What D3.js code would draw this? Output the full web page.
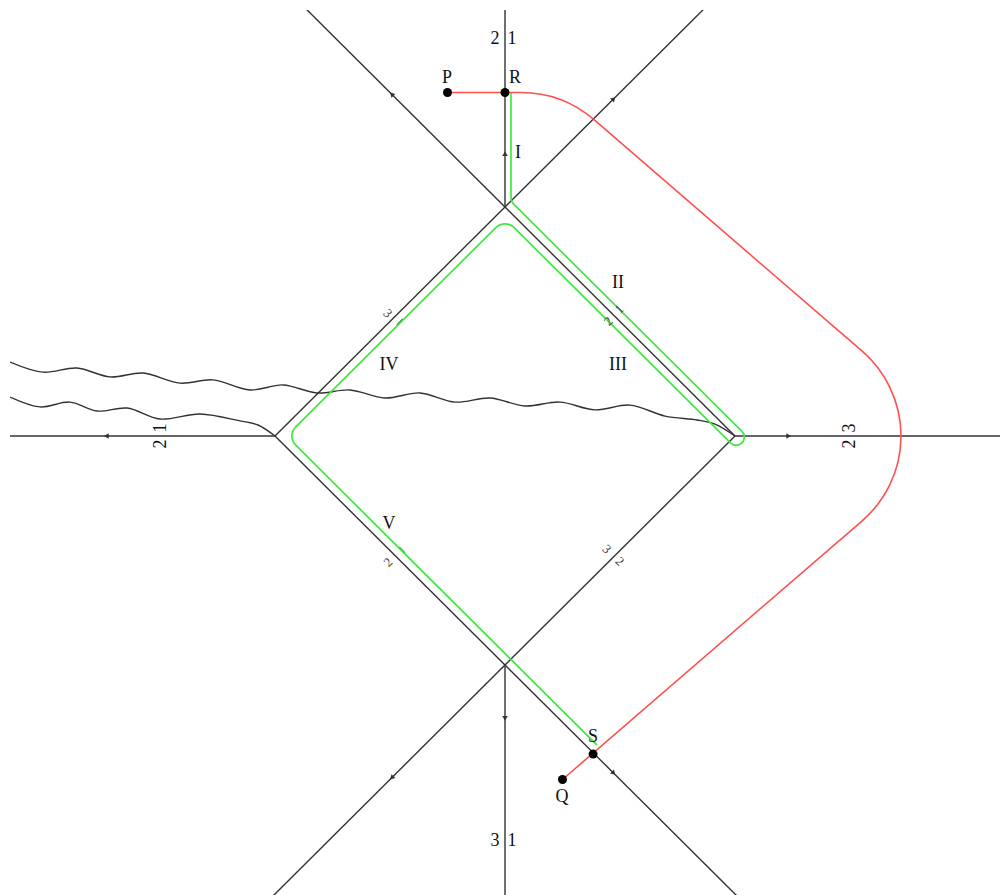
<!DOCTYPE html>
<html><head><meta charset="utf-8">
<script src="https://cdn.jsdelivr.net/npm/d3@7/dist/d3.min.js"></script>
<style>body{margin:0;background:#fff} svg{display:block}</style>
</head><body><svg id="c" width="1000" height="895"></svg>
<script>
// ---- data (diagram units: diamond vertices at ±100) ----
const rays = [
  [[0,100],[0,200]], [[0,-100],[0,-210]],
  [[-100,0],[-230,0]], [[100,0],[230,0]],
  [[-95,195],[100,0]], [[-100,0],[95,195]],
  [[-100,0],[110,-210]], [[100,0],[-110,-210]]
];
const arrowAt  = [[-49,149],[47,147],[0,123],[-173,0],[123,0],[0,-123],[-49,-149],[47,-147]];
const arrowDir = [[-1,1],[1,1],[0,1],[-1,0],[1,0],[0,-1],[-1,-1],[1,-1]];
const edgeTicks = [[-45.7,49.8],[-44.8,-49.8]];
const redPath   = [[-25,150],[25,150],[198,0],[25,-150]];
const redRadii  = [112,112];
const greenPath = [[2.6,150],[2.6,102.4],[105.5,-0.5],[100.5,-5.5],[0,95],[-95,0],[40,-135]];
const greenRadii= [10,8,8,13,13];
const waveUpper = [[-215.2,32.3],[-200.9,27.9],[-186.1,29.7],[-171.7,25.8],[-157.4,27.5],[-141.3,23.1],[-127.0,24.5],[-110.9,20.1],[-96.5,22.3],[-81.7,18.8],[-67.4,20.1],[-52.2,16.6],[-37.0,18.8],[-21.7,14.8],[-6.5,16.6],[8.7,13.1],[23.9,14.8],[39.1,11.4],[54.3,13.5],[69.6,8.7],[83.5,7.0],[91.3,5.2],[100,0]];
const waveLower = [[-215.2,17.0],[-202.2,12.7],[-189.1,14.8],[-177.4,10.9],[-164.3,12.2],[-150.0,7.4],[-132.6,9.6],[-115.2,6.6],[-107.4,4.8],[-100,0]];
const points = [["P",[-25,150]],["R",[0,150]],["S",[38.3,-138.9]],["Q",[25,-150]]];
const labels = [
  ["2",[-4.35,173.8],0],["1",[3.04,173.8],0],
  ["P",[-25.2,156.8],0],["R",[4.35,156.8],0],
  ["I",[5.65,124.0],0],["II",[49.1,67.2],0],["III",[49.1,31.4],0],
  ["IV",[-50.4,31.4],0],["V",[-50.4,-38.0],0],
  ["S",[38.3,-131.0],0],["Q",[24.8,-157.2],0],
  ["3",[-4.35,-176.4],0],["1",[3.04,-176.4],0],
  ["1",[-150,3.5],-90],["2",[-150,-3.5],-90],
  ["3",[149.6,3.5],-90],["2",[149.6,-3.5],-90]
];
const edgeLabels = [
  ["3",[-50.9,53.7],45],
  ["1",[49.6,55.5],-45],["2",[44.8,50.2],-45],
  ["2",[-50.9,-55.0],-45],
  ["3",[44.3,-49.3],45],["2",[50,-54.6],45]
];

// ---- drawing ----
const svg = d3.select("#c");
const x = d3.scaleLinear().domain([-100,100]).range([275,735]);
const y = d3.scaleLinear().domain([-100,100]).range([665,207]);
const P = d => [x(d[0]), y(d[1])];

svg.append("defs").append("clipPath").attr("id","clip")
  .append("rect").attr("x",10).attr("y",10).attr("width",990).attr("height",885);
const g = svg.append("g").attr("clip-path","url(#clip)");

const line = d3.line().x(d=>x(d[0])).y(d=>y(d[1]));
const BLACK="#333";

g.selectAll(".ray").data(rays).join("path")
  .attr("d", d=>line(d)).attr("fill","none").attr("stroke",BLACK).attr("stroke-width",1.4);

const wave = d3.line().x(d=>x(d[0])).y(d=>y(d[1])).curve(d3.curveCatmullRom.alpha(0.5));
g.selectAll(".wave").data([waveUpper, waveLower]).join("path")
  .attr("d", wave).attr("fill","none").attr("stroke",BLACK).attr("stroke-width",1.4);

// arrow markers
g.selectAll(".arr").data(arrowAt).join("path")
  .attr("d", d3.symbol(d3.symbolTriangle, 13))
  .attr("fill",BLACK)
  .attr("transform",(d,i)=>{
    const dir=arrowDir[i]; const ang=Math.atan2(-dir[1],dir[0])*180/Math.PI+90;
    return `translate(${x(d[0])},${y(d[1])}) rotate(${ang})`;
  });
g.selectAll(".etick").data(edgeTicks).join("line")
  .attr("x1",d=>x(d[0])-3).attr("y1",d=>y(d[1])-3*(d[1]>0?-1:1))
  .attr("x2",d=>x(d[0])+3).attr("y2",d=>y(d[1])+3*(d[1]>0?-1:1))
  .attr("stroke","#2a7a2a").attr("stroke-width",1.6);

function rounded(pts, radii){
  const p = d3.path(); const s = pts.map(P);
  p.moveTo(s[0][0], s[0][1]);
  for(let i=1;i<s.length-1;i++) p.arcTo(s[i][0],s[i][1],s[i+1][0],s[i+1][1],radii[i-1]);
  p.lineTo(s[s.length-1][0], s[s.length-1][1]);
  return p.toString();
}
g.append("path").attr("d", rounded(greenPath, greenRadii))
  .attr("fill","none").attr("stroke","#3fe83f").attr("stroke-width",1.7);
g.append("path").attr("d", rounded(redPath, redRadii))
  .attr("fill","none").attr("stroke","#ff5050").attr("stroke-width",1.6);

g.selectAll(".pt").data(points).join("circle")
  .attr("cx",d=>x(d[1][0])).attr("cy",d=>y(d[1][1])).attr("r",4.5).attr("fill","#000");

const FONT='"Liberation Serif","DejaVu Serif",serif';
svg.selectAll(".lbl").data(labels).join("text")
  .attr("transform",d=>`translate(${x(d[1][0])},${y(d[1][1])}) rotate(${d[2]})`)
  .attr("text-anchor","middle").attr("dominant-baseline","central")
  .attr("font-family",FONT).attr("font-size",18).attr("fill","#111")
  .text(d=>d[0]);
svg.selectAll(".elbl").data(edgeLabels).join("text")
  .attr("transform",d=>`translate(${x(d[1][0])},${y(d[1][1])}) rotate(${d[2]})`)
  .attr("text-anchor","middle").attr("dominant-baseline","central")
  .attr("font-family",FONT).attr("font-size",13).attr("fill","#444")
  .text(d=>d[0]);
</script></body></html>
